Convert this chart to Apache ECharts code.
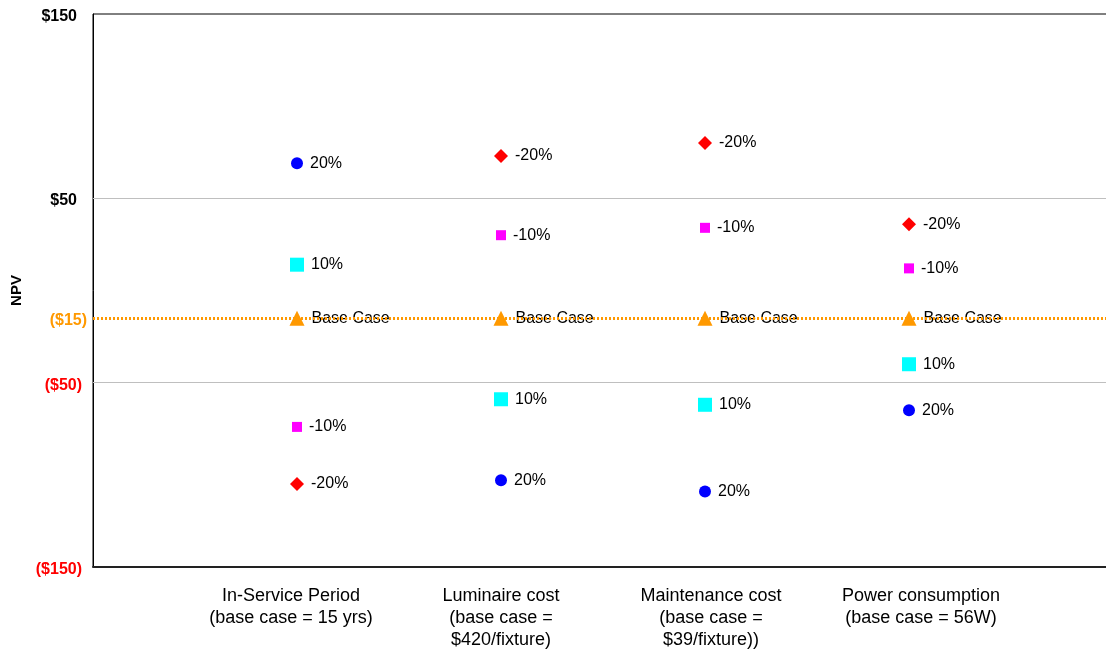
<!DOCTYPE html>
<html>
<head>
<meta charset="utf-8">
<script src="https://cdn.jsdelivr.net/npm/echarts@6/dist/echarts.min.js"></script>
<style>html,body{margin:0;padding:0;background:#fff}#c{width:1106px;height:658px}</style>
</head>
<body>
<div id="c"></div>
<script>
const categories = [
  "In-Service Period\n(base case = 15 yrs)",
  "Luminaire cost\n(base case =\n$420/fixture)",
  "Maintenance cost\n(base case =\n$39/fixture))",
  "Power consumption\n(base case = 56W)"
];
const plus20 = [69, -103, -109, -65];
const plus10 = [14, -59, -62, -40];
const baseCase = [-15, -15, -15, -15];
const minus10 = [-74, 30, 34, 12];
const minus20 = [-105, 73, 80, 36];
const yTicks = [150, 50, -15, -50, -150];
const yTickLabels = ["$150", "$50", "($15)", "($50)", "($150)"];
const yTickColors = ["#000000", "#000000", "#FF9900", "#FF0000", "#FF0000"];
const gridLines = [50, -50];
const baseLine = -15;

const FONT = "Liberation Sans, Arial, sans-serif";
function pts(arr){ return arr.map((v,i)=>[i+1, v]); }
function mkSeries(name, data, symbol, size, color, label){
  return {
    name, type: 'scatter', data: pts(data), symbol, symbolSize: size,
    itemStyle: {color, opacity: 1},
    label: {show: true, position: 'right', distance: 7, formatter: label,
      color: '#000', fontFamily: FONT, fontSize: 16},
    z: 3
  };
}
const yPadRight = [10, 10, 0, 5, 5];
const chart = echarts.init(document.getElementById('c'), null, {renderer: 'canvas'});
chart.setOption({
  animation: false,
  backgroundColor: '#fff',
  grid: {left: 93, right: -7, top: 14, bottom: 91, outerBoundsMode: 'none', containLabel: false,
    show: true, borderColor: '#000', borderWidth: 1, backgroundColor: 'transparent'},
  xAxis: [{
    type: 'value', min: 0, max: 5, interval: 1, position: 'bottom',
    axisLine: {show: true, onZero: false, lineStyle: {color: '#222', width: 2}},
    axisTick: {show: false}, splitLine: {show: false},
    axisLabel: {show: false}
  }, {
    type: 'value', min: 0.057, max: 4.914, position: 'bottom', gridIndex: 0,
    axisLine: {show: false, onZero: false}, axisTick: {show: false}, splitLine: {show: false},
    axisLabel: {customValues: [1,2,3,4], formatter: v => categories[v-1] || '', color: '#000',
      fontFamily: FONT, fontSize: 18, lineHeight: 22, margin: 18, align: 'center'}
  }],
  yAxis: {
    type: 'value', min: -150, max: 150, interval: 50,
    name: 'NPV', nameLocation: 'middle', nameRotate: 90, nameGap: 65,
    nameTextStyle: {fontFamily: FONT, fontWeight: 'bold', fontSize: 15, color: '#000'},
    axisLine: {show: true, onZero: false, lineStyle: {color: '#000', width: 1}},
    axisTick: {show: false}, splitLine: {show: false},
    axisLabel: {customValues: yTicks, margin: 6,
      formatter: v => { const i = yTicks.indexOf(v); return i < 0 ? '' : '{c' + i + '|' + yTickLabels[i] + '}'; },
      rich: Object.fromEntries(yTickColors.map((c,i)=>['c'+i, {color: c, fontFamily: FONT, fontWeight: 'bold', fontSize: 16, padding: [5, yPadRight[i], 0, 0]}]))
    }
  },
  series: [
    {
      type: 'line', data: [], silent: true,
      markLine: {silent: true, symbol: 'none', label: {show: false},
        data: gridLines.map(v => ({yAxis: v, lineStyle: {color: '#BFBFBF', width: 1, type: 'solid'}}))
          .concat([{yAxis: baseLine, lineStyle: {color: '#FF9900', width: 3, type: [2, 2]}}])
      }
    },
    mkSeries('20%', plus20, 'circle', 12, '#0000FF', '20%'),
    mkSeries('10%', plus10, 'rect', 14, '#00FFFF', '10%'),
    mkSeries('Base Case', baseCase, 'triangle', 15, '#FF9900', 'Base Case'),
    mkSeries('-10%', minus10, 'rect', 10, '#FF00FF', '-10%'),
    mkSeries('-20%', minus20, 'diamond', 14, '#FF0000', '-20%')
  ]
});
</script>
</body>
</html>
